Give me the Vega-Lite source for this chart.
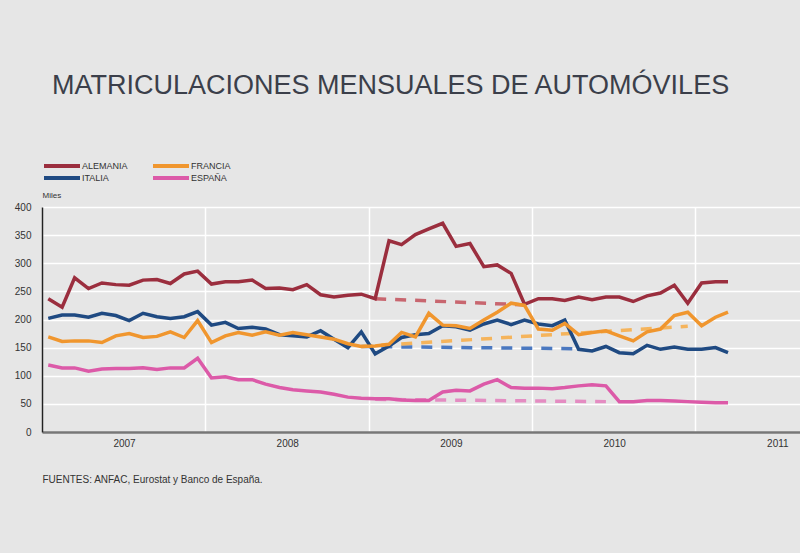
{
  "$schema": "https://vega.github.io/schema/vega-lite/v6.json",
  "autosize": {"type": "none"},
  "padding": {"left": 42, "top": 207, "right": 0, "bottom": 121},
  "width": 758,
  "height": 225,
  "background": "#e6e6e6",
  "config": {
    "view": {"stroke": null},
    "font": "Liberation Sans",
    "axis": {"labelFont": "Liberation Sans", "titleFont": "Liberation Sans"}
  },
  "title": {
    "text": "MATRICULACIONES MENSUALES DE AUTOMÓVILES",
    "anchor": "start",
    "frame": "group",
    "font": "Liberation Sans Narrow, Liberation Sans",
    "fontSize": 27,
    "fontWeight": "normal",
    "color": "#3b3f4a",
    "baseline": "alphabetic",
    "dx": 10,
    "offset": 39
  },
  "datasets": {
    "series": [
      {"fecha": "2007-01-15", "pais": "ALEMANIA", "valor": 237},
      {"fecha": "2007-02-15", "pais": "ALEMANIA", "valor": 222},
      {"fecha": "2007-03-15", "pais": "ALEMANIA", "valor": 274},
      {"fecha": "2007-04-15", "pais": "ALEMANIA", "valor": 255},
      {"fecha": "2007-05-15", "pais": "ALEMANIA", "valor": 265},
      {"fecha": "2007-06-15", "pais": "ALEMANIA", "valor": 262},
      {"fecha": "2007-07-15", "pais": "ALEMANIA", "valor": 261},
      {"fecha": "2007-08-15", "pais": "ALEMANIA", "valor": 270},
      {"fecha": "2007-09-15", "pais": "ALEMANIA", "valor": 271},
      {"fecha": "2007-10-15", "pais": "ALEMANIA", "valor": 264},
      {"fecha": "2007-11-15", "pais": "ALEMANIA", "valor": 281},
      {"fecha": "2007-12-15", "pais": "ALEMANIA", "valor": 286},
      {"fecha": "2008-01-15", "pais": "ALEMANIA", "valor": 263},
      {"fecha": "2008-02-15", "pais": "ALEMANIA", "valor": 267},
      {"fecha": "2008-03-15", "pais": "ALEMANIA", "valor": 267},
      {"fecha": "2008-04-15", "pais": "ALEMANIA", "valor": 270},
      {"fecha": "2008-05-15", "pais": "ALEMANIA", "valor": 255},
      {"fecha": "2008-06-15", "pais": "ALEMANIA", "valor": 256},
      {"fecha": "2008-07-15", "pais": "ALEMANIA", "valor": 253},
      {"fecha": "2008-08-15", "pais": "ALEMANIA", "valor": 262},
      {"fecha": "2008-09-15", "pais": "ALEMANIA", "valor": 244},
      {"fecha": "2008-10-15", "pais": "ALEMANIA", "valor": 240},
      {"fecha": "2008-11-15", "pais": "ALEMANIA", "valor": 243},
      {"fecha": "2008-12-15", "pais": "ALEMANIA", "valor": 245},
      {"fecha": "2009-01-15", "pais": "ALEMANIA", "valor": 237},
      {"fecha": "2009-02-15", "pais": "ALEMANIA", "valor": 340},
      {"fecha": "2009-03-15", "pais": "ALEMANIA", "valor": 333},
      {"fecha": "2009-04-15", "pais": "ALEMANIA", "valor": 351},
      {"fecha": "2009-05-15", "pais": "ALEMANIA", "valor": 361},
      {"fecha": "2009-06-15", "pais": "ALEMANIA", "valor": 371},
      {"fecha": "2009-07-15", "pais": "ALEMANIA", "valor": 330},
      {"fecha": "2009-08-15", "pais": "ALEMANIA", "valor": 335},
      {"fecha": "2009-09-15", "pais": "ALEMANIA", "valor": 294},
      {"fecha": "2009-10-15", "pais": "ALEMANIA", "valor": 297},
      {"fecha": "2009-11-15", "pais": "ALEMANIA", "valor": 282},
      {"fecha": "2009-12-15", "pais": "ALEMANIA", "valor": 227},
      {"fecha": "2010-01-15", "pais": "ALEMANIA", "valor": 237},
      {"fecha": "2010-02-15", "pais": "ALEMANIA", "valor": 237},
      {"fecha": "2010-03-15", "pais": "ALEMANIA", "valor": 234},
      {"fecha": "2010-04-15", "pais": "ALEMANIA", "valor": 240},
      {"fecha": "2010-05-15", "pais": "ALEMANIA", "valor": 235},
      {"fecha": "2010-06-15", "pais": "ALEMANIA", "valor": 240},
      {"fecha": "2010-07-15", "pais": "ALEMANIA", "valor": 240},
      {"fecha": "2010-08-15", "pais": "ALEMANIA", "valor": 232},
      {"fecha": "2010-09-15", "pais": "ALEMANIA", "valor": 242},
      {"fecha": "2010-10-15", "pais": "ALEMANIA", "valor": 247},
      {"fecha": "2010-11-15", "pais": "ALEMANIA", "valor": 261},
      {"fecha": "2010-12-15", "pais": "ALEMANIA", "valor": 229},
      {"fecha": "2011-01-15", "pais": "ALEMANIA", "valor": 265},
      {"fecha": "2011-02-15", "pais": "ALEMANIA", "valor": 267},
      {"fecha": "2011-03-15", "pais": "ALEMANIA", "valor": 267},

      {"fecha": "2007-01-15", "pais": "ITALIA", "valor": 202},
      {"fecha": "2007-02-15", "pais": "ITALIA", "valor": 208},
      {"fecha": "2007-03-15", "pais": "ITALIA", "valor": 208},
      {"fecha": "2007-04-15", "pais": "ITALIA", "valor": 204},
      {"fecha": "2007-05-15", "pais": "ITALIA", "valor": 211},
      {"fecha": "2007-06-15", "pais": "ITALIA", "valor": 207},
      {"fecha": "2007-07-15", "pais": "ITALIA", "valor": 198},
      {"fecha": "2007-08-15", "pais": "ITALIA", "valor": 211},
      {"fecha": "2007-09-15", "pais": "ITALIA", "valor": 205},
      {"fecha": "2007-10-15", "pais": "ITALIA", "valor": 202},
      {"fecha": "2007-11-15", "pais": "ITALIA", "valor": 205},
      {"fecha": "2007-12-15", "pais": "ITALIA", "valor": 214},
      {"fecha": "2008-01-15", "pais": "ITALIA", "valor": 190},
      {"fecha": "2008-02-15", "pais": "ITALIA", "valor": 195},
      {"fecha": "2008-03-15", "pais": "ITALIA", "valor": 184},
      {"fecha": "2008-04-15", "pais": "ITALIA", "valor": 186},
      {"fecha": "2008-05-15", "pais": "ITALIA", "valor": 183},
      {"fecha": "2008-06-15", "pais": "ITALIA", "valor": 173},
      {"fecha": "2008-07-15", "pais": "ITALIA", "valor": 171},
      {"fecha": "2008-08-15", "pais": "ITALIA", "valor": 169},
      {"fecha": "2008-09-15", "pais": "ITALIA", "valor": 180},
      {"fecha": "2008-10-15", "pais": "ITALIA", "valor": 165},
      {"fecha": "2008-11-15", "pais": "ITALIA", "valor": 150},
      {"fecha": "2008-12-15", "pais": "ITALIA", "valor": 178},
      {"fecha": "2009-01-15", "pais": "ITALIA", "valor": 139},
      {"fecha": "2009-02-15", "pais": "ITALIA", "valor": 153},
      {"fecha": "2009-03-15", "pais": "ITALIA", "valor": 168},
      {"fecha": "2009-04-15", "pais": "ITALIA", "valor": 173},
      {"fecha": "2009-05-15", "pais": "ITALIA", "valor": 175},
      {"fecha": "2009-06-15", "pais": "ITALIA", "valor": 189},
      {"fecha": "2009-07-15", "pais": "ITALIA", "valor": 187},
      {"fecha": "2009-08-15", "pais": "ITALIA", "valor": 181},
      {"fecha": "2009-09-15", "pais": "ITALIA", "valor": 192},
      {"fecha": "2009-10-15", "pais": "ITALIA", "valor": 199},
      {"fecha": "2009-11-15", "pais": "ITALIA", "valor": 191},
      {"fecha": "2009-12-15", "pais": "ITALIA", "valor": 199},
      {"fecha": "2010-01-15", "pais": "ITALIA", "valor": 192},
      {"fecha": "2010-02-15", "pais": "ITALIA", "valor": 189},
      {"fecha": "2010-03-15", "pais": "ITALIA", "valor": 199},
      {"fecha": "2010-04-15", "pais": "ITALIA", "valor": 147},
      {"fecha": "2010-05-15", "pais": "ITALIA", "valor": 144},
      {"fecha": "2010-06-15", "pais": "ITALIA", "valor": 152},
      {"fecha": "2010-07-15", "pais": "ITALIA", "valor": 141},
      {"fecha": "2010-08-15", "pais": "ITALIA", "valor": 139},
      {"fecha": "2010-09-15", "pais": "ITALIA", "valor": 154},
      {"fecha": "2010-10-15", "pais": "ITALIA", "valor": 147},
      {"fecha": "2010-11-15", "pais": "ITALIA", "valor": 151},
      {"fecha": "2010-12-15", "pais": "ITALIA", "valor": 147},
      {"fecha": "2011-01-15", "pais": "ITALIA", "valor": 147},
      {"fecha": "2011-02-15", "pais": "ITALIA", "valor": 150},
      {"fecha": "2011-03-15", "pais": "ITALIA", "valor": 141},

      {"fecha": "2007-01-15", "pais": "FRANCIA", "valor": 169},
      {"fecha": "2007-02-15", "pais": "FRANCIA", "valor": 161},
      {"fecha": "2007-03-15", "pais": "FRANCIA", "valor": 162},
      {"fecha": "2007-04-15", "pais": "FRANCIA", "valor": 162},
      {"fecha": "2007-05-15", "pais": "FRANCIA", "valor": 159},
      {"fecha": "2007-06-15", "pais": "FRANCIA", "valor": 171},
      {"fecha": "2007-07-15", "pais": "FRANCIA", "valor": 175},
      {"fecha": "2007-08-15", "pais": "FRANCIA", "valor": 168},
      {"fecha": "2007-09-15", "pais": "FRANCIA", "valor": 170},
      {"fecha": "2007-10-15", "pais": "FRANCIA", "valor": 178},
      {"fecha": "2007-11-15", "pais": "FRANCIA", "valor": 168},
      {"fecha": "2007-12-15", "pais": "FRANCIA", "valor": 198},
      {"fecha": "2008-01-15", "pais": "FRANCIA", "valor": 159},
      {"fecha": "2008-02-15", "pais": "FRANCIA", "valor": 171},
      {"fecha": "2008-03-15", "pais": "FRANCIA", "valor": 177},
      {"fecha": "2008-04-15", "pais": "FRANCIA", "valor": 172},
      {"fecha": "2008-05-15", "pais": "FRANCIA", "valor": 178},
      {"fecha": "2008-06-15", "pais": "FRANCIA", "valor": 172},
      {"fecha": "2008-07-15", "pais": "FRANCIA", "valor": 177},
      {"fecha": "2008-08-15", "pais": "FRANCIA", "valor": 173},
      {"fecha": "2008-09-15", "pais": "FRANCIA", "valor": 169},
      {"fecha": "2008-10-15", "pais": "FRANCIA", "valor": 165},
      {"fecha": "2008-11-15", "pais": "FRANCIA", "valor": 157},
      {"fecha": "2008-12-15", "pais": "FRANCIA", "valor": 152},
      {"fecha": "2009-01-15", "pais": "FRANCIA", "valor": 153},
      {"fecha": "2009-02-15", "pais": "FRANCIA", "valor": 156},
      {"fecha": "2009-03-15", "pais": "FRANCIA", "valor": 177},
      {"fecha": "2009-04-15", "pais": "FRANCIA", "valor": 169},
      {"fecha": "2009-05-15", "pais": "FRANCIA", "valor": 211},
      {"fecha": "2009-06-15", "pais": "FRANCIA", "valor": 190},
      {"fecha": "2009-07-15", "pais": "FRANCIA", "valor": 189},
      {"fecha": "2009-08-15", "pais": "FRANCIA", "valor": 184},
      {"fecha": "2009-09-15", "pais": "FRANCIA", "valor": 199},
      {"fecha": "2009-10-15", "pais": "FRANCIA", "valor": 213},
      {"fecha": "2009-11-15", "pais": "FRANCIA", "valor": 229},
      {"fecha": "2009-12-15", "pais": "FRANCIA", "valor": 225},
      {"fecha": "2010-01-15", "pais": "FRANCIA", "valor": 183},
      {"fecha": "2010-02-15", "pais": "FRANCIA", "valor": 181},
      {"fecha": "2010-03-15", "pais": "FRANCIA", "valor": 193},
      {"fecha": "2010-04-15", "pais": "FRANCIA", "valor": 173},
      {"fecha": "2010-05-15", "pais": "FRANCIA", "valor": 177},
      {"fecha": "2010-06-15", "pais": "FRANCIA", "valor": 180},
      {"fecha": "2010-07-15", "pais": "FRANCIA", "valor": 171},
      {"fecha": "2010-08-15", "pais": "FRANCIA", "valor": 162},
      {"fecha": "2010-09-15", "pais": "FRANCIA", "valor": 178},
      {"fecha": "2010-10-15", "pais": "FRANCIA", "valor": 183},
      {"fecha": "2010-11-15", "pais": "FRANCIA", "valor": 207},
      {"fecha": "2010-12-15", "pais": "FRANCIA", "valor": 213},
      {"fecha": "2011-01-15", "pais": "FRANCIA", "valor": 189},
      {"fecha": "2011-02-15", "pais": "FRANCIA", "valor": 204},
      {"fecha": "2011-03-15", "pais": "FRANCIA", "valor": 213},

      {"fecha": "2007-01-15", "pais": "ESPAÑA", "valor": 119},
      {"fecha": "2007-02-15", "pais": "ESPAÑA", "valor": 114},
      {"fecha": "2007-03-15", "pais": "ESPAÑA", "valor": 114},
      {"fecha": "2007-04-15", "pais": "ESPAÑA", "valor": 108},
      {"fecha": "2007-05-15", "pais": "ESPAÑA", "valor": 112},
      {"fecha": "2007-06-15", "pais": "ESPAÑA", "valor": 113},
      {"fecha": "2007-07-15", "pais": "ESPAÑA", "valor": 113},
      {"fecha": "2007-08-15", "pais": "ESPAÑA", "valor": 114},
      {"fecha": "2007-09-15", "pais": "ESPAÑA", "valor": 111},
      {"fecha": "2007-10-15", "pais": "ESPAÑA", "valor": 114},
      {"fecha": "2007-11-15", "pais": "ESPAÑA", "valor": 114},
      {"fecha": "2007-12-15", "pais": "ESPAÑA", "valor": 131},
      {"fecha": "2008-01-15", "pais": "ESPAÑA", "valor": 96},
      {"fecha": "2008-02-15", "pais": "ESPAÑA", "valor": 98},
      {"fecha": "2008-03-15", "pais": "ESPAÑA", "valor": 93},
      {"fecha": "2008-04-15", "pais": "ESPAÑA", "valor": 93},
      {"fecha": "2008-05-15", "pais": "ESPAÑA", "valor": 85},
      {"fecha": "2008-06-15", "pais": "ESPAÑA", "valor": 79},
      {"fecha": "2008-07-15", "pais": "ESPAÑA", "valor": 75},
      {"fecha": "2008-08-15", "pais": "ESPAÑA", "valor": 73},
      {"fecha": "2008-09-15", "pais": "ESPAÑA", "valor": 71},
      {"fecha": "2008-10-15", "pais": "ESPAÑA", "valor": 67},
      {"fecha": "2008-11-15", "pais": "ESPAÑA", "valor": 62},
      {"fecha": "2008-12-15", "pais": "ESPAÑA", "valor": 60},
      {"fecha": "2009-01-15", "pais": "ESPAÑA", "valor": 59},
      {"fecha": "2009-02-15", "pais": "ESPAÑA", "valor": 59},
      {"fecha": "2009-03-15", "pais": "ESPAÑA", "valor": 57},
      {"fecha": "2009-04-15", "pais": "ESPAÑA", "valor": 56},
      {"fecha": "2009-05-15", "pais": "ESPAÑA", "valor": 56},
      {"fecha": "2009-06-15", "pais": "ESPAÑA", "valor": 71},
      {"fecha": "2009-07-15", "pais": "ESPAÑA", "valor": 74},
      {"fecha": "2009-08-15", "pais": "ESPAÑA", "valor": 73},
      {"fecha": "2009-09-15", "pais": "ESPAÑA", "valor": 85},
      {"fecha": "2009-10-15", "pais": "ESPAÑA", "valor": 93},
      {"fecha": "2009-11-15", "pais": "ESPAÑA", "valor": 79},
      {"fecha": "2009-12-15", "pais": "ESPAÑA", "valor": 78},
      {"fecha": "2010-01-15", "pais": "ESPAÑA", "valor": 78},
      {"fecha": "2010-02-15", "pais": "ESPAÑA", "valor": 77},
      {"fecha": "2010-03-15", "pais": "ESPAÑA", "valor": 79},
      {"fecha": "2010-04-15", "pais": "ESPAÑA", "valor": 82},
      {"fecha": "2010-05-15", "pais": "ESPAÑA", "valor": 84},
      {"fecha": "2010-06-15", "pais": "ESPAÑA", "valor": 82},
      {"fecha": "2010-07-15", "pais": "ESPAÑA", "valor": 54},
      {"fecha": "2010-08-15", "pais": "ESPAÑA", "valor": 54},
      {"fecha": "2010-09-15", "pais": "ESPAÑA", "valor": 56},
      {"fecha": "2010-10-15", "pais": "ESPAÑA", "valor": 56},
      {"fecha": "2010-11-15", "pais": "ESPAÑA", "valor": 55},
      {"fecha": "2010-12-15", "pais": "ESPAÑA", "valor": 54},
      {"fecha": "2011-01-15", "pais": "ESPAÑA", "valor": 53},
      {"fecha": "2011-02-15", "pais": "ESPAÑA", "valor": 52},
      {"fecha": "2011-03-15", "pais": "ESPAÑA", "valor": 52}
    ],
    "tendencias": [
      {"fecha": "2009-01-15", "pais": "ALEMANIA", "valor": 237},
      {"fecha": "2009-12-15", "pais": "ALEMANIA", "valor": 226},
      {"fecha": "2008-12-15", "pais": "ITALIA", "valor": 152},
      {"fecha": "2010-04-15", "pais": "ITALIA", "valor": 148},
      {"fecha": "2008-12-15", "pais": "FRANCIA", "valor": 152},
      {"fecha": "2010-12-15", "pais": "FRANCIA", "valor": 188},
      {"fecha": "2009-01-15", "pais": "ESPAÑA", "valor": 58},
      {"fecha": "2010-06-15", "pais": "ESPAÑA", "valor": 54}
    ]
  },
  "encoding": {
    "x": {
      "field": "fecha",
      "type": "temporal",
      "scale": {"type": "utc", "domain": ["2007-01-01", "2011-08-23"]},
      "axis": {
        "values": ["2007-01-01", "2008-01-01", "2009-01-01", "2010-01-01", "2011-01-01"],
        "format": "%Y",
        "formatType": "utc",
        "labelOffset": 82,
        "labelFlush": false,
        "labelFontSize": 10,
        "labelColor": "#333333",
        "labelPadding": 6,
        "ticks": false,
        "tickSize": 0,
        "grid": true,
        "gridColor": "#ffffff",
        "gridWidth": 1.5,
        "gridOpacity": 1,
        "domainColor": "#777777",
        "domainWidth": 2.5,
        "title": "FUENTES: ANFAC, Eurostat  y Banco de España.",
        "titleFontSize": 10,
        "titleFontWeight": "normal",
        "titleColor": "#333333",
        "titleAlign": "left",
        "titleAnchor": "start",
        "titleX": 0,
        "titleY": 50,
        "titleBaseline": "alphabetic"
      }
    },
    "y": {
      "field": "valor",
      "type": "quantitative",
      "scale": {"domain": [0, 400], "nice": false, "zero": true},
      "axis": {
        "values": [0, 50, 100, 150, 200, 250, 300, 350, 400],
        "labelFontSize": 10,
        "labelColor": "#333333",
        "labelPadding": 11,
        "ticks": false,
        "tickSize": 0,
        "grid": true,
        "gridColor": "#ffffff",
        "gridWidth": 1.5,
        "gridOpacity": 1,
        "domainColor": "#222222",
        "domainWidth": 1.5,
        "title": "Miles",
        "titleFontSize": 8,
        "titleFontWeight": "normal",
        "titleColor": "#333333",
        "titleAngle": 0,
        "titleAlign": "left",
        "titleX": 0,
        "titleY": -10,
        "titleBaseline": "alphabetic"
      }
    }
  },
  "layer": [
    {
      "data": {"name": "tendencias"},
      "mark": {"type": "line", "strokeWidth": 3.5, "strokeDash": [11, 9]},
      "encoding": {
        "color": {
          "field": "pais",
          "type": "nominal",
          "scale": {
            "domain": ["ALEMANIA", "FRANCIA", "ITALIA", "ESPAÑA"],
            "range": ["#c8666f", "#f5b45c", "#4a78c0", "#e48cc2"]
          },
          "legend": null
        }
      }
    },
    {
      "data": {"name": "series"},
      "mark": {"type": "line", "strokeWidth": 3.5, "strokeJoin": "miter"},
      "encoding": {
        "color": {
          "field": "pais",
          "type": "nominal",
          "sort": ["ALEMANIA", "FRANCIA", "ITALIA", "ESPAÑA"],
          "scale": {
            "domain": ["ALEMANIA", "FRANCIA", "ITALIA", "ESPAÑA"],
            "range": ["#9b2e3e", "#f0962e", "#1f4a82", "#dc5aa8"]
          },
          "legend": {
            "title": null,
            "orient": "none",
            "legendX": 0,
            "legendY": -47,
            "direction": "horizontal",
            "columns": 2,
            "symbolType": "M-1,0H8",
            "symbolSize": 64,
            "symbolStrokeWidth": 4,
            "labelFontSize": 9,
            "labelColor": "#333333",
            "labelOffset": 28,
            "columnPadding": 23,
            "rowPadding": 0,
            "clipHeight": 12
          }
        }
      }
    }
  ],
  "resolve": {"scale": {"color": "independent"}}
}
